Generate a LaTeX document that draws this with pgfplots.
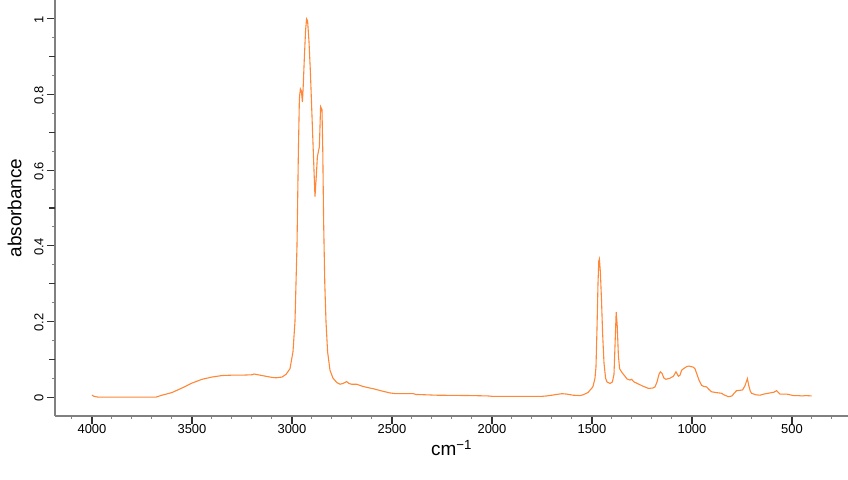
\documentclass[border=0pt]{standalone}
\usepackage{fontspec}
\setmainfont{Liberation Sans}
\usepackage{pgfplots}
\pgfplotsset{compat=1.18}
\definecolor{spec}{RGB}{255,135,55}
\definecolor{axgray}{RGB}{128,128,128}
\begin{document}
\begin{tikzpicture}
\begin{axis}[
  at={(55bp,64bp)}, anchor=south west,
  scale only axis, width=793bp, height=416bp,
  x dir=reverse, xmin=220, xmax=4185,
  ymin=-0.05, ymax=1.05,
  axis x line*=bottom, axis y line*=left,
  axis line style={axgray, line width=1.3pt},
  tick align=outside,
  major tick length=8bp, minor tick length=3bp,
  every major tick/.style={black!80, line width=1.1pt},
  every minor tick/.style={axgray, line width=1pt},
  xtick={500,1000,...,4000},
  minor xtick={300,400,...,4100},
  ytick={0,0.2,0.4,0.6,0.8,1},
  yticklabels={0,0.2,0.4,0.6,0.8,1},
  minor ytick={0.05,0.15,...,0.96},
  extra y ticks={0.1,0.3,0.5,0.7,0.9},
  extra y tick labels={},
  extra y tick style={major tick length=6bp},
  /pgf/number format/assume math mode=true,
  /pgf/number format/1000 sep={},
  xticklabel style={font=\fontsize{13}{14}\selectfont, yshift=3bp},
  yticklabel style={font=\fontsize{13}{14}\selectfont, rotate=90, anchor=south, xshift=-1bp},
  scaled ticks=false,
  xlabel={cm\textsuperscript{\char"2212 1}},
  ylabel={absorbance},
  xlabel style={font=\fontsize{19}{20}\selectfont, yshift=0bp},
  ylabel style={font=\fontsize{19}{20}\selectfont, yshift=-8bp},
  clip=false,
]
\addplot[spec, line width=1.1pt] coordinates {
(4000,0.005) (3990,0.002) (3970,0.0) (3800,0.0) (3680,0.0) (3650,0.005) (3600,0.012)
(3550,0.024) (3500,0.037) (3450,0.047) (3400,0.053) (3350,0.057) (3300,0.058) (3250,0.058)
(3200,0.059) (3190,0.061) (3170,0.059) (3130,0.055) (3100,0.052) (3080,0.051) (3050,0.053)
(3030,0.060) (3010,0.075) (2995,0.12) (2985,0.2) (2975,0.4) (2968,0.65) (2963,0.79)
(2958,0.815) (2953,0.81) (2948,0.78) (2944,0.82) (2938,0.9) (2932,0.97) (2927,1.0)
(2922,0.995) (2915,0.94) (2908,0.86) (2897,0.7) (2890,0.6) (2885,0.53) (2879,0.58)
(2873,0.636) (2863,0.662) (2857,0.768) (2850,0.76) (2846,0.65) (2842,0.47) (2836,0.3)
(2830,0.2) (2822,0.12) (2810,0.071) (2795,0.05) (2775,0.038) (2760,0.034) (2745,0.036)
(2727,0.041) (2715,0.036) (2702,0.034) (2677,0.034) (2650,0.029) (2620,0.025) (2593,0.022)
(2550,0.016) (2510,0.011) (2480,0.009) (2393,0.009) (2380,0.007) (2277,0.005) (2100,0.004)
(2020,0.003) (2000,0.002) (1750,0.002) (1727,0.003) (1700,0.005) (1677,0.007) (1650,0.009)
(1627,0.008) (1595,0.005) (1560,0.004) (1545,0.006) (1520,0.012) (1502,0.023) (1495,0.028)
(1485,0.05) (1480,0.08) (1475,0.18) (1470,0.3) (1466,0.36) (1463,0.365) (1458,0.33)
(1452,0.25) (1447,0.17) (1440,0.09) (1432,0.05) (1425,0.04) (1410,0.036) (1398,0.04)
(1390,0.06) (1384,0.15) (1379,0.225) (1374,0.19) (1368,0.11) (1362,0.075) (1350,0.065)
(1335,0.055) (1325,0.048) (1310,0.045) (1302,0.047) (1290,0.04) (1277,0.037) (1250,0.03)
(1218,0.023) (1195,0.024) (1185,0.027) (1175,0.04) (1165,0.06) (1158,0.067) (1150,0.063)
(1140,0.05) (1130,0.047) (1110,0.05) (1093,0.055) (1080,0.067) (1068,0.055) (1060,0.058)
(1052,0.071) (1040,0.076) (1025,0.081) (1015,0.082) (1000,0.08) (993,0.079) (985,0.075)
(977,0.063) (965,0.045) (952,0.031) (940,0.028) (927,0.027) (915,0.02) (902,0.014)
(880,0.012) (865,0.011) (852,0.01) (840,0.006) (818,0.001) (800,0.003) (790,0.01)
(777,0.017) (760,0.018) (747,0.019) (735,0.03) (723,0.049) (716,0.03) (708,0.015)
(702,0.01) (680,0.006) (660,0.005) (640,0.008) (610,0.011) (590,0.013) (577,0.017)
(570,0.013) (560,0.008) (540,0.008) (527,0.008) (510,0.006) (493,0.004) (470,0.004)
(450,0.003) (430,0.004) (402,0.003)
};
\end{axis}
\pgfresetboundingbox
\path[use as bounding box] (0,0) rectangle (848bp,480bp);
\end{tikzpicture}
\end{document}
